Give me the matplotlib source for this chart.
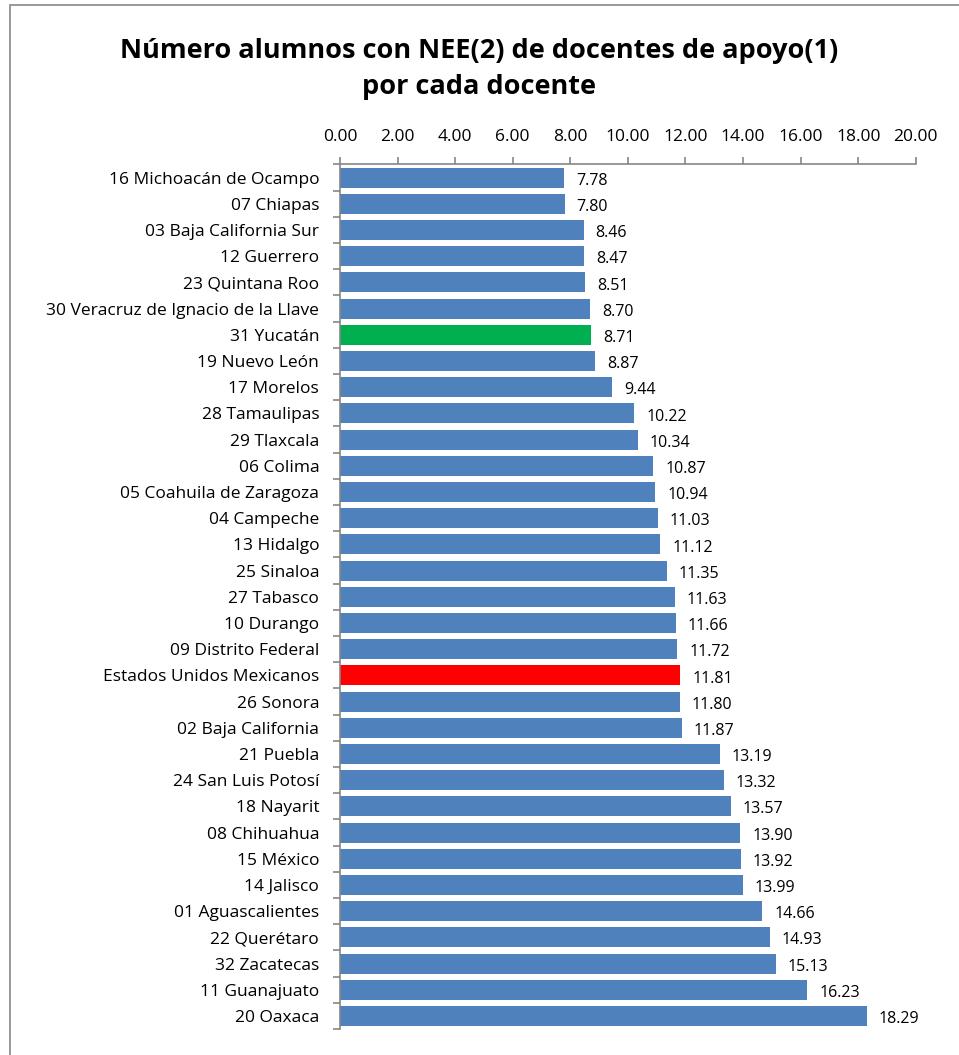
import numpy as np
import matplotlib.pyplot as plt
from matplotlib.patches import Rectangle

estados = [
    "16 Michoacán de Ocampo", "07 Chiapas", "03 Baja California Sur", "12 Guerrero",
    "23 Quintana Roo", "30 Veracruz de Ignacio de la Llave", "31 Yucatán", "19 Nuevo León",
    "17 Morelos", "28 Tamaulipas", "29 Tlaxcala", "06 Colima", "05 Coahuila de Zaragoza",
    "04 Campeche", "13 Hidalgo", "25 Sinaloa", "27 Tabasco", "10 Durango",
    "09 Distrito Federal", "Estados Unidos Mexicanos", "26 Sonora", "02 Baja California",
    "21 Puebla", "24 San Luis Potosí", "18 Nayarit", "08 Chihuahua", "15 México",
    "14 Jalisco", "01 Aguascalientes", "22 Querétaro", "32 Zacatecas", "11 Guanajuato",
    "20 Oaxaca",
]
valores = [
    7.78, 7.80, 8.46, 8.47, 8.51, 8.70, 8.71, 8.87, 9.44, 10.22, 10.34, 10.87, 10.94,
    11.03, 11.12, 11.35, 11.63, 11.66, 11.72, 11.81, 11.80, 11.87, 13.19, 13.32, 13.57,
    13.90, 13.92, 13.99, 14.66, 14.93, 15.13, 16.23, 18.29,
]
ticks_x = np.arange(0, 21, 2)

azul = '#4f81bd'
colores = []
for e in estados:
    if e == "31 Yucatán":
        colores.append('#00b050')
    elif e == "Estados Unidos Mexicanos":
        colores.append('#ff0000')
    else:
        colores.append(azul)

plt.rcParams['font.family'] = ['Open Sans', 'DejaVu Sans']

fig = plt.figure(figsize=(9.59, 10.55), dpi=100)
fig.patches.append(Rectangle((0.0105, -0.01), 1.2, 1.005, transform=fig.transFigure,
                             fill=False, edgecolor='#868686', linewidth=1.2))
ax = fig.add_axes([0.3545, 0.0246, 0.6005, 0.8195])

y = np.arange(len(estados))
ax.barh(y, valores, height=0.76, color=colores, edgecolor='none')
for yi, v in zip(y, valores):
    ax.text(v + 0.42, yi + 0.12, '%.2f' % v, va='center', ha='left', fontsize=11.5)

ax.set_ylim(len(estados) - 0.5, -0.5)
ax.set_xlim(0, 20)
ax.set_yticks(y)
ax.set_yticklabels(estados, fontsize=12.5)
ax.tick_params(axis='y', length=0, pad=15)
ax.set_yticks(np.arange(-0.5, len(estados), 1), minor=True)
ax.tick_params(axis='y', which='minor', length=5, color='#868686', width=1.2)

ax.xaxis.tick_top()
ax.set_xticks(ticks_x)
ax.set_xticklabels(['%.2f' % t for t in ticks_x], fontsize=12.5)
ax.tick_params(axis='x', length=5, color='#868686', width=1.2, pad=9)

for s in ['right', 'bottom']:
    ax.spines[s].set_visible(False)
for s in ['left', 'top']:
    ax.spines[s].set_color('#868686')
    ax.spines[s].set_linewidth(1.2)

fig.text(0.5, 0.952, 'Número alumnos con NEE(2) de docentes de apoyo(1)',
         ha='center', va='center', fontsize=19.5, fontweight='bold')
fig.text(0.5, 0.918, 'por cada docente', ha='center', va='center',
         fontsize=19.5, fontweight='bold')

fig.savefig('out.png', dpi=100)
